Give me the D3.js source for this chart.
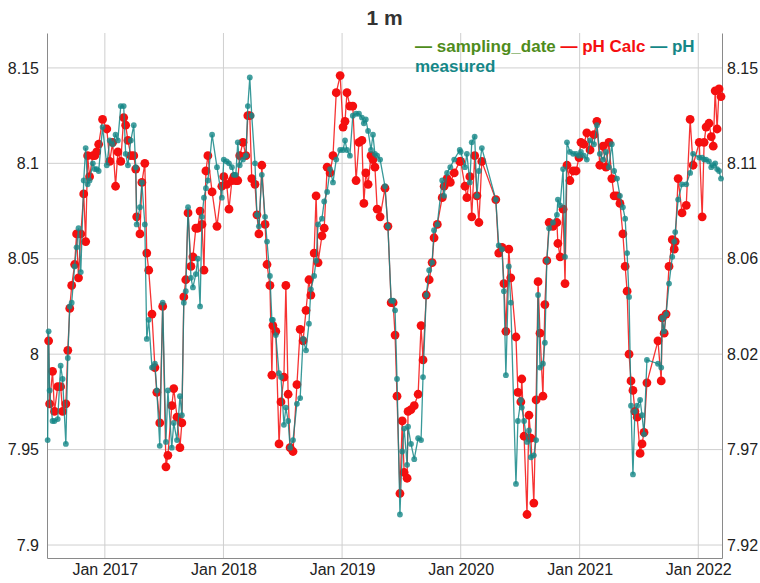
<!DOCTYPE html>
<html>
<head>
<meta charset="utf-8">
<script src="https://cdn.jsdelivr.net/npm/d3@7"></script>
<style>
  body { margin: 0; background: #fff; }
  svg text { font-family: "Liberation Sans", Arial, Helvetica, sans-serif; }
</style>
</head>
<body>
<svg id="chart"></svg>
<script>
// ---------------------- data ---------------------------

const samplingDates = [
  "2016-07-09","2016-07-12","2016-07-15","2016-07-24","2016-07-30","2016-08-09","2016-08-18","2016-08-24","2016-09-03","2016-09-09",
  "2016-09-15","2016-09-21","2016-09-30","2016-10-06","2016-10-12","2016-10-19","2016-10-28","2016-11-03","2016-11-09","2016-11-15",
  "2016-11-25","2016-12-01","2016-12-07","2016-12-13","2016-12-25",
  "2017-01-07","2017-01-16","2017-01-25","2017-02-03","2017-02-10","2017-02-19","2017-02-28","2017-03-06","2017-03-13","2017-03-22",
  "2017-03-31","2017-04-06","2017-04-09","2017-04-19","2017-04-25","2017-05-04","2017-05-10","2017-05-16","2017-05-26","2017-06-04",
  "2017-06-10","2017-06-19","2017-06-28","2017-07-08","2017-07-14","2017-07-26","2017-08-01","2017-08-11","2017-08-20","2017-08-26",
  "2017-09-01","2017-09-07","2017-09-14","2017-09-23","2017-09-29","2017-10-08","2017-10-14","2017-10-21","2017-10-27","2017-11-02",
  "2017-11-08","2017-11-14","2017-11-27","2017-12-12","2017-12-27",
  "2018-01-02","2018-01-11","2018-01-18","2018-01-27","2018-02-02","2018-02-08","2018-02-14","2018-02-20","2018-03-02","2018-03-11",
  "2018-03-17","2018-03-23","2018-03-29","2018-04-08","2018-04-14","2018-04-20","2018-04-29","2018-05-09","2018-05-15","2018-05-24",
  "2018-05-30","2018-06-02","2018-06-11","2018-06-21","2018-06-27","2018-07-06","2018-07-12","2018-07-19","2018-07-25","2018-08-03",
  "2018-08-15","2018-08-25","2018-09-03","2018-09-12","2018-09-21","2018-09-27","2018-10-07","2018-10-13","2018-10-19","2018-10-31",
  "2018-11-07","2018-11-16","2018-11-25","2018-12-04","2018-12-14","2018-12-26",
  "2019-01-04","2019-01-10","2019-01-16","2019-01-25","2019-02-03","2019-02-13","2019-02-22","2019-03-03","2019-03-09","2019-03-15",
  "2019-03-22","2019-03-31","2019-04-06","2019-04-12","2019-04-19","2019-04-28","2019-05-13","2019-05-22","2019-06-01","2019-06-07",
  "2019-06-13","2019-06-19","2019-06-28","2019-07-05","2019-07-11","2019-07-20","2019-07-23","2019-08-01","2019-08-11","2019-08-23",
  "2019-09-01","2019-09-07","2019-09-17","2019-09-26","2019-10-05","2019-10-11","2019-10-21","2019-11-05","2019-11-11","2019-11-20",
  "2019-11-30","2019-12-12","2019-12-29",
  "2020-01-01","2020-01-14","2020-01-20","2020-01-29","2020-02-04","2020-02-13","2020-02-20","2020-02-26","2020-03-06","2020-04-18",
  "2020-04-27","2020-05-07","2020-05-13","2020-05-19","2020-05-28","2020-06-03","2020-06-19","2020-06-25","2020-07-04","2020-07-07",
  "2020-07-14","2020-07-23","2020-07-29","2020-08-04","2020-08-13","2020-08-20","2020-08-26","2020-09-01","2020-09-10","2020-09-16",
  "2020-09-22","2020-09-29","2020-10-11","2020-10-23","2020-10-26","2020-11-02","2020-11-11","2020-11-17","2020-11-23","2020-12-02",
  "2020-12-12","2020-12-21","2020-12-30",
  "2021-01-05","2021-01-14","2021-01-23","2021-02-02","2021-02-14","2021-02-23","2021-03-04","2021-03-14","2021-03-23","2021-04-01",
  "2021-04-10","2021-04-17","2021-04-26","2021-05-05","2021-05-14","2021-05-21","2021-05-27","2021-06-02","2021-06-08","2021-06-14",
  "2021-06-20","2021-06-27","2021-07-06","2021-07-12","2021-07-18","2021-07-27","2021-08-30","2021-09-09","2021-09-12","2021-09-18",
  "2021-09-24","2021-10-03","2021-10-13","2021-10-19","2021-10-22","2021-10-31","2021-11-12","2021-11-25","2021-12-07","2021-12-16",
  "2022-01-04","2022-01-13","2022-01-19","2022-01-25","2022-02-03","2022-02-10","2022-02-16","2022-02-22","2022-02-28","2022-03-06",
  "2022-03-12"
];

const phCalc = [
  null, 8.007, 7.974, 7.991, 7.970, 7.983, 7.983, 7.970, 7.974, 8.002,
  8.024, 8.036, 8.047, 8.063, 8.040, 8.063, 8.084, 8.059, 8.104, 8.093,
  8.104, 8.104, 8.106, 8.110, 8.123,
  8.118, 8.101, 8.111, 8.088, 8.106, 8.101, 8.124, 8.120, 8.112, 8.104,
  8.104, 8.097, 8.072, 8.063, 8.090, 8.100, 8.053, 8.044, 8.021, 7.993,
  7.980, 7.964, 8.025, 7.941, 7.947, 7.973, 7.982, 7.967, 7.951, 7.964,
  8.030, 8.039, 8.074, 8.046, 8.051, 8.066, 8.066, 8.075, 8.068, 8.044,
  8.096, 8.104, 8.085, 8.067, 8.088,
  8.093, 8.089, 8.076, 8.091, 8.093, 8.091, 8.091, 8.104, 8.111, 8.104,
  8.125, 8.125, 8.092, 8.089, 8.073, 8.063, 8.099, 8.068, 8.047, 8.036,
  7.989, 8.015, 8.012, 7.953, 7.975, 7.988, 8.036, 7.979, 7.951, 7.949,
  7.984, 8.013, 8.007, 8.023, 8.039, 8.031, 8.053, 8.083, 8.048, 8.062,
  8.066, 8.098, 8.095, 8.104, 8.137, 8.146,
  8.119, 8.122, 8.137, 8.130, 8.130, 8.091, 8.111, 8.112, 8.079, 8.095,
  8.089, 8.104, 8.102, 8.098, 8.076, 8.072, 8.087, 8.067, 8.027, 8.027,
  8.010, 7.978, 7.927, 7.965, 7.938, 7.935, 7.970, 7.971, 7.973, 7.979,
  8.015, 7.997, 8.031, 8.039, 8.048, 8.061, 8.068, 8.082, 8.088, 8.092,
  8.090, 8.095, 8.101,
  8.101, 8.088, 8.082, 8.093, 8.072, 8.104, 8.083, 8.069, 8.101, 8.081,
  8.053, 8.056, 8.037, 8.012, 8.055, 8.040, 8.009, 7.980, 7.975, 7.987,
  7.957, 7.916, 7.968, 7.956, 7.922, 7.976, 8.038, 8.011, 7.978, 8.026,
  8.049, 8.069, 8.067, 8.069, 8.058, 8.051, 8.076, 8.037, 8.099, 8.091,
  8.096, 8.096, 8.103,
  8.111, 8.110, 8.116, 8.107, 8.115, 8.122, 8.099, 8.109, 8.098, 8.111,
  8.092, 8.083, 8.083, 8.079, 8.063, 8.046, 8.033, 8.000, 7.986, 7.981,
  7.970, 7.967, 7.948, 7.953, 7.959, 7.985, 8.007, 7.986, 8.019, 8.011,
  8.021, 8.046, 8.060, 8.055, 8.059, 8.092, 8.074, 8.078, 8.123, 8.099,
  8.111, 8.072, 8.111, 8.119, 8.121, 8.114, 8.109, 8.138, 8.118, 8.139,
  8.135
];

const phMeasured = [
  7.955, 8.012, 7.981, 7.965, 7.965, 7.966, 7.994, 7.987, 7.953, 7.998,
  8.025, 8.027, 8.046, 8.056, 8.066, 8.043, 8.091, 8.108, 8.089, 8.091,
  8.100, 8.097, 8.097, 8.096, 8.119,
  8.099, 8.112, 8.110, 8.115, 8.112, 8.130, 8.130, 8.105, 8.099, 8.112,
  8.120, 8.098, 8.068, 8.077, 8.090, 8.068, 8.008, 8.018, 7.993, 7.995,
  7.981, 7.952, 8.027, 7.954, 7.981, 7.951, 7.964, 7.955, 7.978, 7.968,
  8.027, 8.033, 8.077, 8.040, 8.035, 8.042, 8.050, 8.025, 8.072, 8.082,
  8.087, 8.091, 8.115, 8.098, 8.082,
  8.102, 8.101, 8.100, 8.098, 8.094, 8.094, 8.111, 8.099, 8.102, 8.104,
  8.130, 8.145, 8.125, 8.100, 8.073, 8.067, 8.094, 8.072, 8.059, 8.041,
  8.018, 8.018, 8.010, 7.990, 7.988, 7.963, 7.972, 7.965, 7.951, 7.955,
  7.974, 7.977, 8.008, 8.002, 8.016, 8.034, 8.041, 8.049, 8.068, 8.071,
  8.080, 8.085, 8.097, 8.090, 8.102, 8.107,
  8.107, 8.112, 8.107, 8.104, 8.125, 8.126, 8.126, 8.124, 8.121, 8.123,
  8.117, 8.107, 8.115, 8.105, 8.104, 8.102, 8.088, 8.067, 8.028, 8.028,
  8.023, 7.987, 7.916, 7.949, 7.961, 7.942, 7.962, 7.953, 7.945, 7.956,
  7.955, 7.988, 8.031, 8.044, 8.048, 8.065, 8.068, 8.091, 8.083, 8.095,
  8.098, 8.102, 8.107,
  8.106, 8.098, 8.105, 8.090, 8.111, 8.114, 8.083, 8.096, 8.108, 8.081,
  8.057, 8.055, 8.033, 7.989, 8.046, 8.027, 7.932, 7.965, 7.976, 7.972,
  7.965, 7.954, 7.960, 7.946, 7.947, 7.955, 8.031, 7.993, 7.995, 8.006,
  8.049, 8.066, 8.069, 8.073, 8.081, 8.078, 8.097, 8.051, 8.111, 8.106,
  8.105, 8.105, 8.104,
  8.106, 8.104, 8.102, 8.112, 8.110, 8.120, 8.105, 8.102, 8.106, 8.098,
  8.110, 8.096, 8.092, 8.083, 8.077, 8.071, 8.053, 8.030, 7.973, 7.937,
  7.970, 7.973, 7.976, 7.968, 7.958, 7.997, 7.995, 7.993, 8.019, 8.012,
  8.021, 8.037, 8.051, 8.059, 8.064, 8.081, 8.089, 8.089, 8.095, 8.105,
  8.103, 8.103, 8.102, 8.102, 8.101, 8.098, 8.099, 8.100, 8.097, 8.096,
  8.092
];

// axis ticks
const leftTicks = [7.9, 7.95, 8, 8.05, 8.1, 8.15];
const rightTicks = [7.924, 7.9696, 8.0152, 8.0608, 8.1064, 8.152];
const xTickYears = [2017, 2018, 2019, 2020, 2021, 2022];

const seriesNames = ["sampling_date", "pH Calc", "pH measured"];
const seriesColors = ["#4f8c1c", "#f50f0f", "#158787"];

// ---------------------- layout ---------------------------
const width = 760, height = 583;
const margin = {top: 33, right: 38, bottom: 25, left: 47};
const xDomain = ["2016-07-07", "2022-03-15"];
const yDomain = [7.8932, 8.1683];

const parse = d3.timeParse("%Y-%m-%d");
const data = samplingDates.map((d, i) => ({date: parse(d), calc: phCalc[i], meas: phMeasured[i]}));

const svg = d3.select("#chart").attr("width", width).attr("height", height);

const xScale = d3.scaleTime()
  .domain(xDomain.map(parse))
  .range([margin.left, width - margin.right]);

const yScale = d3.scaleLinear()
  .domain(yDomain)
  .range([height - margin.bottom, margin.top]);

// right axis is a rescaled copy of the left one
const y2Scale = yScale.copy()
  .domain(yDomain.map(v => rightTicks[0] + (v - leftTicks[0]) * (rightTicks[5] - rightTicks[0]) / (leftTicks[5] - leftTicks[0])));

// grid lines
const grid = svg.append("g");
leftTicks.forEach(t => {
  grid.append("line")
    .attr("x1", margin.left).attr("x2", width - margin.right)
    .attr("y1", yScale(t)).attr("y2", yScale(t))
    .attr("stroke", "#cfcfcf");
});
xTickYears.forEach(yr => {
  const x = xScale(new Date(yr, 0, 1));
  grid.append("line")
    .attr("x1", x).attr("x2", x)
    .attr("y1", margin.top).attr("y2", height - margin.bottom)
    .attr("stroke", "#cfcfcf");
});

// axes
const fmtLeft = d => String(+d.toFixed(2));
const leftAxis = svg.append("g")
  .attr("transform", "translate(" + margin.left + ",0)")
  .call(d3.axisLeft(yScale).tickValues(leftTicks).tickFormat(fmtLeft).tickSize(0).tickPadding(8));

const rightAxis = svg.append("g")
  .attr("transform", "translate(" + (width - margin.right) + ",0)")
  .call(d3.axisRight(y2Scale).tickValues(rightTicks).tickFormat(d3.format(".2f")).tickSize(0).tickPadding(5));

const bottomAxis = svg.append("g")
  .attr("transform", "translate(0," + (height - margin.bottom) + ")")
  .call(d3.axisBottom(xScale)
    .tickValues(xTickYears.map(yr => new Date(yr, 0, 1)))
    .tickFormat(d3.timeFormat("%b %Y"))
    .tickSize(0).tickPadding(6));

[leftAxis, rightAxis, bottomAxis].forEach(a => {
  a.select(".domain").attr("stroke", "#8a8a8a");
  a.selectAll("text").attr("font-size", 16).attr("fill", "#222");
});
bottomAxis.selectAll("text").attr("font-size", 16);

// ---------------------- series ---------------------------
const plot = svg.append("g");

function drawSeries(key, color, radius, lineOpacity, dotOpacity) {
  const pts = data.filter(d => d[key] != null);
  const line = d3.line()
    .x(d => xScale(d.date))
    .y(d => yScale(d[key]));
  plot.append("path")
    .datum(pts)
    .attr("d", line)
    .attr("fill", "none")
    .attr("stroke", color)
    .attr("stroke-opacity", lineOpacity)
    .attr("stroke-width", 1.3);
  plot.append("g")
    .selectAll("circle")
    .data(pts)
    .join("circle")
    .attr("cx", d => xScale(d.date))
    .attr("cy", d => yScale(d[key]))
    .attr("r", radius)
    .attr("fill", color)
    .attr("fill-opacity", dotOpacity);
}

drawSeries("calc", seriesColors[1], 4.4, 0.85, 1);
drawSeries("meas", seriesColors[2], 2.9, 0.85, 0.8);

// ---------------------- title and legend ---------------------------
svg.append("text")
  .attr("x", (margin.left + width - margin.right) / 2)
  .attr("y", 25)
  .attr("text-anchor", "middle")
  .attr("font-size", 21)
  .attr("font-weight", "bold")
  .attr("fill", "#333")
  .text("1 m");

const legend = svg.append("text")
  .attr("x", 415)
  .attr("y", 52)
  .attr("font-size", 17)
  .attr("font-weight", "bold");
legend.append("tspan").attr("fill", seriesColors[0]).text("\u2014 " + seriesNames[0] + " ");
legend.append("tspan").attr("fill", seriesColors[1]).text("\u2014 " + seriesNames[1] + " ");
legend.append("tspan").attr("fill", seriesColors[2]).text("\u2014 pH");

svg.append("text")
  .attr("x", 415)
  .attr("y", 72)
  .attr("font-size", 17)
  .attr("font-weight", "bold")
  .attr("fill", seriesColors[2])
  .text("measured");
</script>
</body>
</html>
